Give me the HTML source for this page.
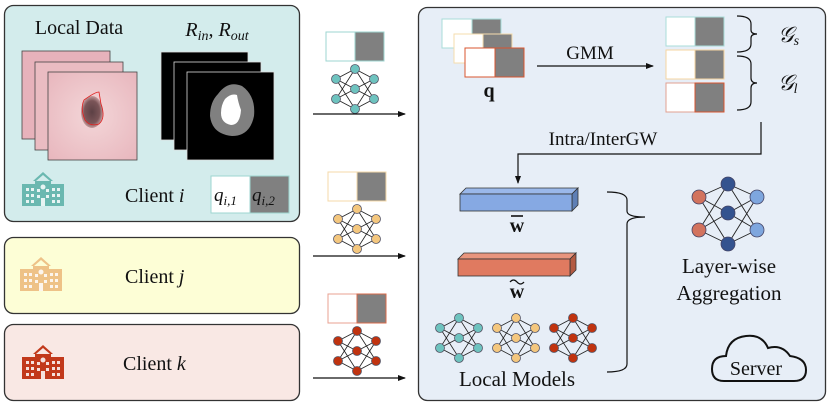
<!DOCTYPE html>
<html><head><meta charset="utf-8"><style>
html,body{margin:0;padding:0;background:#fff;}
svg{display:block;}
text{font-family:"Liberation Serif",serif;fill:#111;}
</style></head><body>
<svg width="830" height="409" viewBox="0 0 830 409" xmlns="http://www.w3.org/2000/svg">
<defs>
<g id="net" stroke="#222" stroke-width="0.8">
  <g fill="none">
  <path d="M-19-10L0-20M-19-10L0 0M-19-10L0 20M-19 10L0-20M-19 10L0 0M-19 10L0 20M19-10L0-20M19-10L0 0M19-10L0 20M19 10L0-20M19 10L0 0M19 10L0 20"/>
  </g>
  <circle cx="-19" cy="-10" r="4.5" stroke="#556"/><circle cx="-19" cy="10" r="4.5" stroke="#556"/>
  <circle cx="0" cy="-20" r="4.5" stroke="#556"/><circle cx="0" cy="0" r="4.5" stroke="#556"/><circle cx="0" cy="20" r="4.5" stroke="#556"/>
  <circle cx="19" cy="-10" r="4.5" stroke="#556"/><circle cx="19" cy="10" r="4.5" stroke="#556"/>
</g>
<g id="bld">
  <path d="M21 0 L31 9 L28 9 L21 3 L14 9 L11 9Z"/>
  <rect x="13" y="9" width="16" height="5"/>
  <rect x="0" y="12" width="42" height="22"/>
  <g fill="#fff" opacity="0.85">
   <rect x="4" y="16" width="3" height="3"/><rect x="9" y="16" width="3" height="3"/><rect x="30" y="16" width="3" height="3"/><rect x="35" y="16" width="3" height="3"/>
   <rect x="4" y="22" width="3" height="3"/><rect x="9" y="22" width="3" height="3"/><rect x="30" y="22" width="3" height="3"/><rect x="35" y="22" width="3" height="3"/>
   <rect x="4" y="28" width="3" height="3"/><rect x="9" y="28" width="3" height="3"/><rect x="30" y="28" width="3" height="3"/><rect x="35" y="28" width="3" height="3"/>
   <rect x="15" y="17" width="3" height="3"/><rect x="24" y="17" width="3" height="3"/><rect x="15" y="23" width="3" height="3"/><rect x="24" y="23" width="3" height="3"/>
   <rect x="19" y="26" width="4" height="8"/><circle cx="21" cy="15" r="2.5"/>
  </g>
</g>
<marker id="ah" markerWidth="8" markerHeight="8" refX="7" refY="4" orient="auto" markerUnits="userSpaceOnUse"><path d="M0 1L8 4L0 7Z" fill="#111"/></marker>
<radialGradient id="skin" cx="0.5" cy="0.5" r="0.7"><stop offset="0" stop-color="#f3d6d8"/><stop offset="1" stop-color="#e8b6bd"/></radialGradient>
<radialGradient id="les" cx="0.5" cy="0.5" r="0.5"><stop offset="0" stop-color="#5c4044"/><stop offset="0.7" stop-color="#7b5558"/><stop offset="1" stop-color="#c49a9c"/></radialGradient>
</defs>

<!-- Client i -->
<rect x="4.5" y="5.5" width="295" height="216" rx="9" fill="#d3ecec" stroke="#333" stroke-width="1.3"/>
<text x="79" y="34" font-size="20" text-anchor="middle">Local Data</text>
<text x="217" y="36" font-size="20" text-anchor="middle" font-style="italic">R<tspan font-size="14" dy="4">in</tspan><tspan dy="-4">, R</tspan><tspan font-size="14" dy="4">out</tspan></text>
<rect x="22" y="51" width="88" height="88" fill="#e7b2bb" stroke="#444" stroke-width="0.8"/>
<rect x="35" y="62" width="88" height="88" fill="#eabcc2" stroke="#444" stroke-width="0.8"/>
<rect x="48" y="72" width="89" height="88" fill="url(#skin)" stroke="#444" stroke-width="0.8"/>
<ellipse cx="92" cy="112" rx="11" ry="16" fill="url(#les)"/>
<path d="M84 100 Q95 92 99 92 L101 104 Q106 118 99 124 Q90 127 85 120 Q80 108 84 100Z" fill="none" stroke="#e02020" stroke-width="0.8"/>
<rect x="161" y="52" width="87" height="88" fill="#000" stroke="#ddd" stroke-width="0.8"/>
<rect x="174" y="62" width="87" height="88" fill="#000" stroke="#ddd" stroke-width="0.8"/>
<rect x="187" y="72" width="87" height="88" fill="#000" stroke="#ddd" stroke-width="0.8"/>
<path d="M218 94 Q228 80 242 86 Q256 96 254 116 Q250 136 232 136 Q212 134 210 116 Q210 102 218 94Z" fill="#808080"/>
<path d="M225 99 Q231 93 237 95 Q238 102 241 110 Q240 125 231 125 Q221 123 221 113 Q221 105 225 99Z" fill="#fff"/>
<use href="#bld" x="22" y="172" fill="#6ab8b0"/>
<text x="125" y="202" font-size="20">Client <tspan font-style="italic">i</tspan></text>
<rect x="211" y="176" width="39" height="37" fill="#fff" stroke="#9ed6d0" stroke-width="1"/>
<rect x="250" y="176" width="39" height="37" fill="#808080" stroke="#9ed6d0" stroke-width="1"/>
<text x="214" y="201" font-size="19" font-style="italic">q<tspan font-size="13" dy="4">i,1</tspan></text>
<text x="252" y="201" font-size="19" font-style="italic">q<tspan font-size="13" dy="4">i,2</tspan></text>

<!-- Client j -->
<rect x="4.5" y="237.5" width="295" height="76" rx="9" fill="#fdfed6" stroke="#333" stroke-width="1.3"/>
<use href="#bld" x="20" y="257" fill="#eec287"/>
<text x="125" y="283" font-size="20">Client <tspan font-style="italic">j</tspan></text>
<!-- Client k -->
<rect x="4.5" y="324.5" width="295" height="76" rx="9" fill="#f9e8e4" stroke="#333" stroke-width="1.3"/>
<use href="#bld" x="22" y="345" fill="#c2391b"/>
<text x="123" y="370" font-size="20">Client <tspan font-style="italic">k</tspan></text>

<!-- middle -->
<rect x="326" y="32" width="29" height="29" fill="#fff" stroke="#9ed6d0"/><rect x="355" y="32" width="29" height="29" fill="#808080" stroke="#9ed6d0"/>
<use href="#net" x="355" y="89" fill="#6ec3bf"/>
<line x1="313" y1="114" x2="405" y2="114" stroke="#111" stroke-width="1.2" marker-end="url(#ah)"/>
<rect x="328" y="172" width="29" height="29" fill="#fff" stroke="#f5d9a8"/><rect x="357" y="172" width="29" height="29" fill="#808080" stroke="#f5d9a8"/>
<use href="#net" x="357" y="229" fill="#f4c77e"/>
<line x1="313" y1="256" x2="405" y2="256" stroke="#111" stroke-width="1.2" marker-end="url(#ah)"/>
<rect x="328" y="294" width="29" height="29" fill="#fff" stroke="#e8a090"/><rect x="357" y="294" width="29" height="29" fill="#808080" stroke="#d86a4a"/>
<use href="#net" x="357" y="351" fill="#c0330f"/>
<line x1="313" y1="378" x2="405" y2="378" stroke="#111" stroke-width="1.2" marker-end="url(#ah)"/>

<!-- Server -->
<rect x="418.5" y="7.5" width="407" height="393" rx="9" fill="#e7eef7" stroke="#333" stroke-width="1.3"/>
<rect x="442" y="19" width="30" height="29" fill="#fff" stroke="#a8dcd8"/><rect x="472" y="19" width="29" height="29" fill="#808080" stroke="#a8dcd8"/>
<rect x="454" y="34" width="29" height="29" fill="#fff" stroke="#f6dcae"/><rect x="483" y="34" width="29" height="29" fill="#808080" stroke="#f6dcae"/>
<rect x="465" y="48" width="30" height="29" fill="#fff" stroke="#d8552f"/><rect x="495" y="48" width="29" height="29" fill="#808080" stroke="#d8552f"/>
<text x="489" y="97" font-size="20" font-weight="bold" text-anchor="middle">q</text>
<line x1="537" y1="66" x2="653" y2="66" stroke="#111" stroke-width="1.2" marker-end="url(#ah)"/>
<text x="590" y="59" font-size="19" text-anchor="middle">GMM</text>
<rect x="666" y="17" width="29" height="29" fill="#fff" stroke="#a8dcd8"/><rect x="695" y="17" width="29" height="29" fill="#808080" stroke="#a8dcd8"/>
<rect x="666" y="50" width="29" height="29" fill="#fff" stroke="#f6d4a0"/><rect x="695" y="50" width="29" height="29" fill="#808080" stroke="#f6d4a0"/>
<rect x="666" y="83" width="29" height="29" fill="#fff" stroke="#e0a090"/><rect x="695" y="83" width="29" height="29" fill="#808080" stroke="#d8552f"/>
<path d="M737 16 Q751 16 751 24 L751 30 Q751 34 757 34 Q751 34 751 38 L751 44 Q751 52 737 52" fill="none" stroke="#111" stroke-width="1.2"/>
<path d="M737 56 Q751 56 751 64 L751 78 Q751 83 757 83 Q751 83 751 88 L751 102 Q751 110 737 110" fill="none" stroke="#111" stroke-width="1.2"/>
<text x="778" y="42" font-size="22" font-style="italic">𝒢<tspan font-size="14" dy="3">s</tspan></text>
<text x="778" y="90" font-size="22" font-style="italic">𝒢<tspan font-size="14" dy="3">l</tspan></text>
<path d="M761 122 L761 154 L518 154 L518 183" fill="none" stroke="#111" stroke-width="1.2" marker-end="url(#ah)"/>
<text x="603" y="145" font-size="19" text-anchor="middle">Intra/InterGW</text>

<!-- bars -->
<path d="M460 194 L466 188 L578 188 L572 194Z" fill="#9ab8ea" stroke="#333" stroke-width="0.8"/>
<path d="M572 194 L578 188 L578 205 L572 211Z" fill="#5e7fb5" stroke="#333" stroke-width="0.8"/>
<rect x="460" y="194" width="112" height="17" fill="#86a9e3" stroke="#333" stroke-width="0.8"/>
<text x="517" y="232" font-size="20" font-weight="bold" text-anchor="middle">w</text>
<line x1="511" y1="216" x2="523" y2="216" stroke="#111" stroke-width="1.6"/>
<path d="M458 259 L464 253 L576 253 L570 259Z" fill="#e8957e" stroke="#333" stroke-width="0.8"/>
<path d="M570 259 L576 253 L576 270 L570 276Z" fill="#b35a42" stroke="#333" stroke-width="0.8"/>
<rect x="458" y="259" width="112" height="17" fill="#e07a60" stroke="#333" stroke-width="0.8"/>
<text x="517" y="298" font-size="20" font-weight="bold" text-anchor="middle">w</text>
<path d="M510 282 Q513.5 278 517 282 Q520.5 286 524 282" fill="none" stroke="#111" stroke-width="1.3"/>
<use href="#net" x="459" y="338" fill="#6ec3bf"/>
<use href="#net" x="516" y="338" fill="#f4c77e"/>
<use href="#net" x="573" y="338" fill="#c0330f"/>
<text x="517" y="386" font-size="21" text-anchor="middle">Local Models</text>
<path d="M607 192 Q627 192 627 200 L627 211 Q627 217 645 217 Q627 217 627 224 L627 364 Q627 372 607 372" fill="none" stroke="#111" stroke-width="1.2"/>

<!-- big net -->
<g stroke="#222" stroke-width="0.9" fill="none">
<path d="M699 197L728 184M699 197L728 213M699 197L728 244M699 230L728 184M699 230L728 213M699 230L728 244M757 197L728 184M757 197L728 213M757 197L728 244M757 230L728 184M757 230L728 213M757 230L728 244"/>
</g>
<g stroke="#446" stroke-width="0.8">
<circle cx="699" cy="197" r="7" fill="#d2735e"/><circle cx="699" cy="230" r="7" fill="#d2735e"/>
<circle cx="728" cy="184" r="7" fill="#34538f"/><circle cx="728" cy="213" r="7" fill="#34538f"/><circle cx="728" cy="244" r="7" fill="#34538f"/>
<circle cx="757" cy="197" r="7" fill="#7ea6de"/><circle cx="757" cy="230" r="7" fill="#7ea6de"/>
</g>
<text x="729" y="273" font-size="21" text-anchor="middle">Layer-wise</text>
<text x="729" y="300" font-size="21" text-anchor="middle">Aggregation</text>

<!-- cloud -->
<path d="M724 381 Q712 381 712 369 Q712 356 726 356 Q728 338 746 336 Q762 334 768 348 Q782 344 790 356 Q806 358 806 370 Q806 381 794 381 Z" fill="none" stroke="#111" stroke-width="2"/>
<text x="756" y="375" font-size="20" text-anchor="middle">Server</text>
</svg>
</body></html>
